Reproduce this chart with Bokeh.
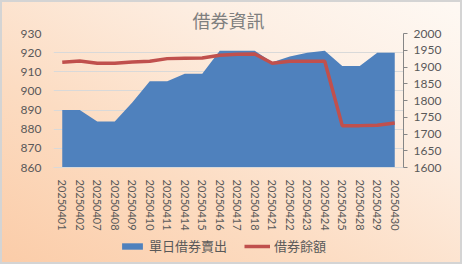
from bokeh.plotting import figure
from bokeh.layouts import column
from bokeh.models import Range1d, LinearAxis, FactorRange, SingleIntervalTicker, Legend, LegendItem
from bokeh.embed import file_html
from bokeh.resources import INLINE

dates = ["20250401", "20250402", "20250407", "20250408", "20250409", "20250410",
         "20250411", "20250414", "20250415", "20250416", "20250417", "20250418",
         "20250421", "20250422", "20250423", "20250424", "20250425", "20250428",
         "20250429", "20250430"]
daily_sell = [890, 890, 884, 884, 894, 905, 905, 909, 909, 921, 921, 921,
              915, 918, 920, 921, 913, 913, 920, 920]
balance = [1914, 1918, 1911, 1911, 1915, 1917, 1925, 1926, 1927, 1935, 1938, 1939,
           1911, 1917, 1917, 1917, 1725, 1725, 1726, 1733]

title_text = "借券資訊"
label_sell = "單日借券賣出"
label_balance = "借券餘額"

BLUE = "#4F81BD"
RED = "#C0504D"

p = figure(width=462, height=233, x_range=FactorRange(*dates), y_range=Range1d(860, 930),
           output_backend="svg", toolbar_location=None,
           min_border_left=53, min_border_right=59, min_border_top=33, min_border_bottom=64)
p.extra_y_ranges = {"right": Range1d(1600, 2000)}
p.border_fill_color = None
p.background_fill_color = None
p.outline_line_color = None

p.title.text = title_text
p.title.align = "center"
p.title.text_font = "Noto Sans CJK TC"
p.title.text_font_size = "18px"
p.title.text_font_style = "normal"
p.title.text_color = "#7F7F7F"
p.title.standoff = 2
p.title.offset = 0

area = p.varea(x=dates, y1=[860] * len(dates), y2=daily_sell, fill_color=BLUE)
line = p.line(x=dates, y=balance, y_range_name="right", line_color=RED, line_width=3.5)

# left axis
ly = p.yaxis[0]
ly.ticker = SingleIntervalTicker(interval=10)
ly.axis_line_color = None
ly.major_tick_line_color = None
ly.minor_tick_line_color = None
ly.major_label_text_font = "Lato"
ly.major_label_text_font_size = "12px"
ly.major_label_text_color = "#595959"
ly.major_label_standoff = 6

# right axis
ry = LinearAxis(y_range_name="right", ticker=SingleIntervalTicker(interval=50))
ry.axis_line_color = "#868686"
ry.major_tick_line_color = "#868686"
ry.major_tick_out = 4
ry.major_tick_in = 0
ry.minor_tick_line_color = None
ry.major_label_text_font = "Lato"
ry.major_label_text_font_size = "12px"
ry.major_label_text_color = "#595959"
ry.major_label_standoff = 6
p.add_layout(ry, "right")

# x axis
xa = p.xaxis[0]
xa.major_label_orientation = "vertical"
xa.axis_line_color = "#D9D9D9"
xa.major_tick_line_color = None
xa.major_label_text_font = "Lato"
xa.major_label_text_font_size = "11px"
xa.major_label_text_color = "#595959"
xa.major_label_standoff = 6

p.xgrid.grid_line_color = None
p.ygrid.grid_line_color = "#D9D9D9"
p.ygrid.ticker = SingleIntervalTicker(interval=10)

# legend strip
q = figure(width=462, height=31, output_backend="svg", toolbar_location=None,
           min_border=0, x_axis_location=None, y_axis_location=None)
q.border_fill_color = None
q.background_fill_color = None
q.outline_line_color = None
q.grid.visible = False
la = q.varea(x=[0], y1=[0], y2=[0], fill_color=BLUE)
ll = q.line(x=[0], y=[0], line_color=RED, line_width=3.5)

legend = Legend(items=[LegendItem(label=label_sell, renderers=[la]),
                       LegendItem(label=label_balance, renderers=[ll])],
                orientation="horizontal", location=(66, 9))
legend.background_fill_color = None
legend.border_line_color = None
legend.label_text_font = "Noto Sans CJK TC"
legend.label_text_font_size = "13px"
legend.label_text_color = "#595959"
legend.glyph_width = 26
legend.glyph_height = 8
legend.spacing = 17
legend.label_standoff = 4
legend.margin = 0
legend.padding = 2
q.add_layout(legend)

layout = column(p, q, spacing=0, styles={
    "background": "linear-gradient(30deg, #FBCCA8 0%, #FCDCC2 35%, #FDEEE2 70%, #FEF9F4 100%)",
    "box-shadow": "inset 0 0 0 2px #D4D4D4",
})

open("out.html", "w").write(file_html(layout, INLINE))
